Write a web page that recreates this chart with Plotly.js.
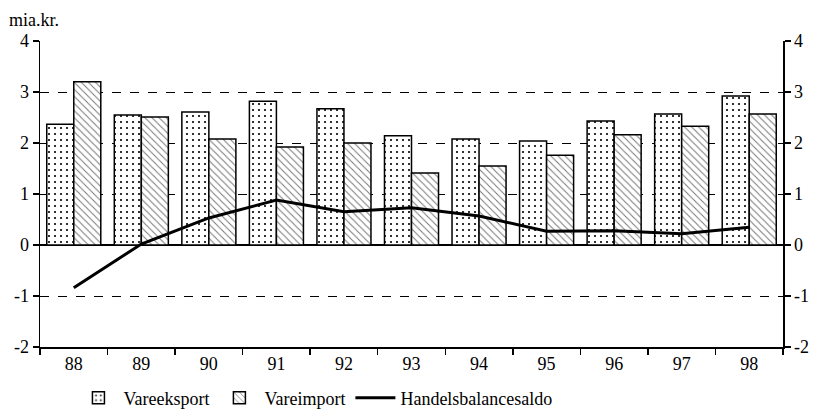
<!DOCTYPE html>
<html>
<head>
<meta charset="utf-8">
<script src="https://cdn.plot.ly/plotly-3.0.1.min.js"></script>
<style>
html,body{margin:0;padding:0;background:#fff;}
#chart{width:816px;height:409px;}
#chart svg text{font-family:"Liberation Serif",serif !important;}
</style>
</head>
<body>
<div id="chart"></div>
<script>
var years = ['88','89','90','91','92','93','94','95','96','97','98'];
var vareeksport = [2.37, 2.55, 2.61, 2.82, 2.67, 2.14, 2.08, 2.04, 2.43, 2.57, 2.92];
var vareimport = [3.20, 2.51, 2.08, 1.92, 2.00, 1.41, 1.55, 1.76, 2.16, 2.33, 2.57];
var handelsbalancesaldo = [-0.84, 0.02, 0.53, 0.88, 0.65, 0.73, 0.57, 0.27, 0.28, 0.22, 0.35];
var yTicks = [-2, -1, 0, 1, 2, 3, 4];

var FONT = 'serif';
var TXT = {family: FONT, size: 18, color: '#000'};

var traces = [
  {
    type: 'bar', name: 'Vareeksport', x: years, y: vareeksport,
    marker: {color: '#ffffff', line: {color: '#000', width: 1.5},
      pattern: {shape: '.', fgcolor: '#000', bgcolor: '#fff', size: 6, solidity: 0.1}}
  },
  {
    type: 'bar', name: 'Vareimport', x: years, y: vareimport,
    marker: {color: '#ffffff', line: {color: '#000', width: 1.5},
      pattern: {shape: '\\', fgcolor: '#777', bgcolor: '#fff', size: 5, solidity: 0.2}}
  },
  {
    type: 'scatter', mode: 'lines', name: 'Handelsbalancesaldo', x: years, y: handelsbalancesaldo,
    line: {color: '#000', width: 3}
  },
  {
    type: 'scatter', mode: 'lines', x: years, y: handelsbalancesaldo, yaxis: 'y2',
    showlegend: false, hoverinfo: 'skip', line: {color: 'rgba(0,0,0,0)', width: 0}
  }
];

var layout = {
  width: 816, height: 409,
  margin: {l: 40, r: 33, t: 41, b: 62, autoexpand: false},
  paper_bgcolor: '#fff', plot_bgcolor: '#fff',
  font: TXT,
  barmode: 'group', bargap: 0.2, bargroupgap: 0,
  showlegend: true,
  legend: {orientation: 'h', x: 0.045, xanchor: 'left', y: -0.167, yanchor: 'middle',
    font: TXT, traceorder: 'normal',
    itemwidth: 40, tracegroupgap: 0, bgcolor: 'rgba(0,0,0,0)'},
  xaxis: {
    type: 'category', showline: true, linecolor: '#000', linewidth: 1.5,
    ticks: 'outside', tickson: 'boundaries', ticklen: 6, tickcolor: '#000', tickwidth: 1.5,
    showgrid: false, tickfont: TXT, fixedrange: true, automargin: false
  },
  yaxis: {
    range: [-2, 4], tickvals: yTicks, ticktext: yTicks.map(String),
    showline: true, linecolor: '#000', linewidth: 1.5,
    ticks: 'outside', ticklen: 6, tickcolor: '#000', tickwidth: 1.5,
    showgrid: true, gridcolor: '#000', gridwidth: 1, griddash: 'dash',
    zeroline: true, zerolinecolor: '#000', zerolinewidth: 1.5,
    tickfont: TXT, fixedrange: true, automargin: false
  },
  yaxis2: {
    overlaying: 'y', side: 'right', range: [-2, 4], tickvals: yTicks, ticktext: yTicks.map(String),
    showline: true, linecolor: '#000', linewidth: 1.5,
    ticks: 'outside', ticklen: 6, tickcolor: '#000', tickwidth: 1.5,
    showgrid: false, zeroline: false, tickfont: TXT, fixedrange: true, automargin: false
  },
  annotations: [
    {text: 'mia.kr.', xref: 'paper', yref: 'paper', x: -0.045, y: 1.0, xanchor: 'left', yanchor: 'bottom',
      yshift: 9, showarrow: false, font: TXT}
  ]
};

Plotly.newPlot('chart', traces, layout, {displayModeBar: false, staticPlot: true});
</script>
</body>
</html>
